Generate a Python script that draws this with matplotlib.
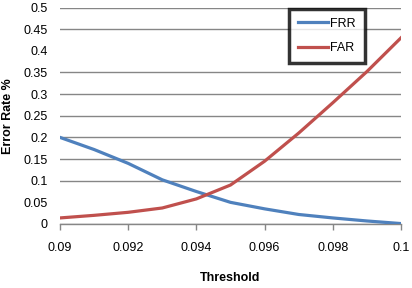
import matplotlib
matplotlib.use("Agg")
import matplotlib.pyplot as plt

thresholds = [0.090, 0.091, 0.092, 0.093, 0.094, 0.095, 0.096, 0.097, 0.098, 0.099, 0.100]
frr = [0.200, 0.172, 0.140, 0.102, 0.075, 0.050, 0.035, 0.022, 0.014, 0.007, 0.001]
far = [0.014, 0.020, 0.027, 0.037, 0.058, 0.090, 0.145, 0.210, 0.280, 0.352, 0.430]
x_ticks = [0.09, 0.092, 0.094, 0.096, 0.098, 0.1]
x_tick_labels = ["0.09", "0.092", "0.094", "0.096", "0.098", "0.1"]
y_ticks = [0, 0.05, 0.1, 0.15, 0.2, 0.25, 0.3, 0.35, 0.4, 0.45, 0.5]
y_tick_labels = ["0", "0.05", "0.1", "0.15", "0.2", "0.25", "0.3", "0.35", "0.4", "0.45", "0.5"]

plt.rcParams['font.family'] = ['Liberation Sans', 'DejaVu Sans']

fig = plt.figure(figsize=(4.12, 2.88), dpi=100)
ax = fig.add_axes([60/412, 1-224/288, 341/412, 216.5/288])

ax.plot(thresholds, frr, color='#4F81BD', lw=2.3, label='FRR', zorder=3,
        solid_joinstyle='round')
ax.plot(thresholds, far, color='#C0504D', lw=2.3, label='FAR', zorder=3,
        solid_joinstyle='round')

ax.set_xlim(0.09, 0.1)
ax.set_ylim(0, 0.5)
ax.set_xticks(x_ticks)
ax.set_xticklabels(x_tick_labels)
ax.set_yticks(y_ticks)
ax.set_yticklabels(y_tick_labels)
ax.tick_params(axis='x', length=4, width=1, color='#868686', labelsize=9, pad=9)
ax.tick_params(axis='y', length=0, labelsize=9, pad=9)

ax.yaxis.grid(True, color='#868686', lw=1)
gl = ax.yaxis.get_gridlines()
for i, v in enumerate(y_ticks):
    if v in (0.05, 0.4):
        gl[i].set_visible(False)

for s in ['left', 'right', 'top']:
    ax.spines[s].set_visible(False)
ax.spines['bottom'].set_color('#868686')
ax.spines['bottom'].set_linewidth(1)

ax.set_xlabel('Threshold', fontsize=9, fontweight='bold', labelpad=13)
ax.set_ylabel('Error Rate %', fontsize=9, fontweight='bold')
ax.yaxis.set_label_coords(-(60 - 14) / 341, 0.5)

leg = ax.legend(loc='upper left', bbox_to_anchor=((289-60)/341, 1 - (9-7.5)/216.5),
                frameon=True, fancybox=False, fontsize=9, handlelength=2.4,
                borderpad=0.7, labelspacing=1.0, handletextpad=0.2, borderaxespad=0)
leg.get_frame().set_edgecolor('black')
leg.get_frame().set_linewidth(2.5)

fig.savefig('out.png', dpi=100)
